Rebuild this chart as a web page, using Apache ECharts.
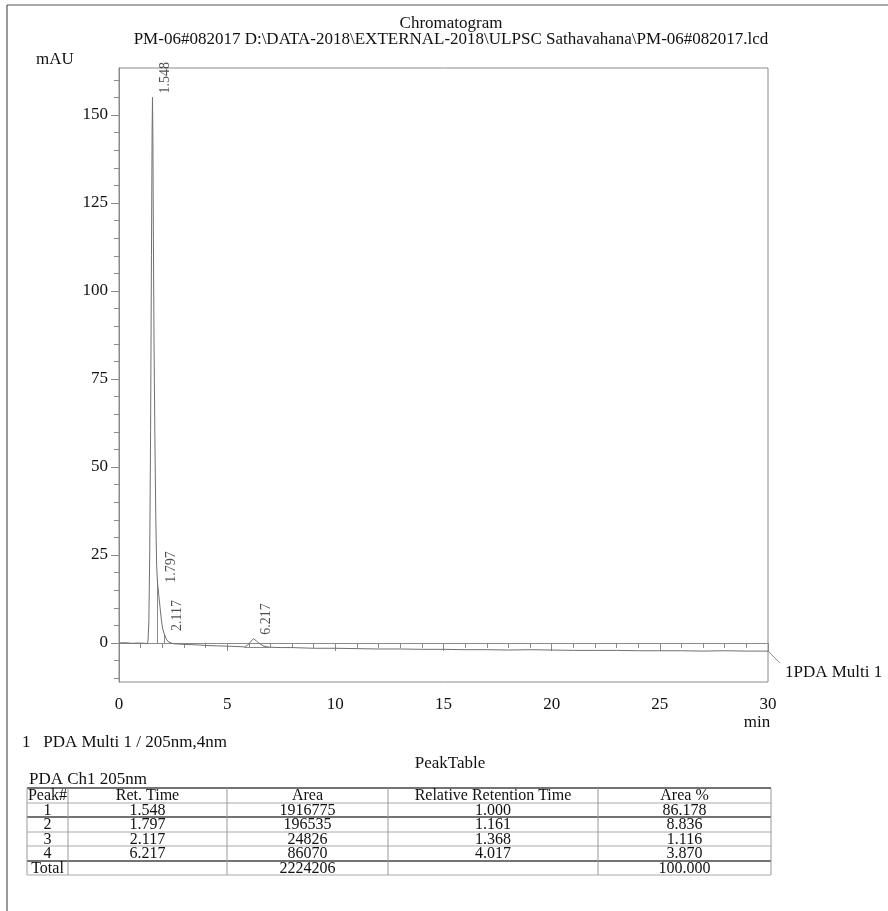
<!DOCTYPE html>
<html><head><meta charset="utf-8">
<script src="https://cdn.jsdelivr.net/npm/echarts@6/dist/echarts.min.js"></script>
<style>html,body{margin:0;padding:0;background:#fff}#c{width:888px;height:911px}</style>
</head><body><div id="c"></div>
<script>
// ---- data ----
const timeMin = [0, 0.3, 0.6, 0.9, 1.2, 1.30, 1.34, 1.38, 1.42, 1.46, 1.50, 1.53, 1.548, 1.565, 1.59, 1.62, 1.66, 1.70, 1.74, 1.78, 1.80, 1.84, 1.90, 1.96, 2.02, 2.08, 2.117, 2.18, 2.26, 2.35, 2.5, 3.0, 3.5, 4.0, 4.5, 5.0, 5.5, 5.8, 5.95, 6.1, 6.217, 6.35, 6.5, 6.7, 6.95, 7.5, 8, 9, 10, 11, 12, 13, 14, 15, 16, 17, 18, 19, 20, 21, 22, 23, 24, 25, 26, 27, 28, 29, 30];
const signalMAU = [0.0, 0.1, -0.1, 0.0, -0.1, -0.2, 0.5, 6, 25, 60, 110, 145, 155, 145, 115, 85, 58, 36, 22, 17, 16, 13.5, 10, 6.5, 4, 2.8, 2.3, 1.2, 0.4, 0.0, -0.2, -0.4, -0.5, -0.7, -0.8, -0.9, -1.0, -1.1, -0.6, 0.5, 1.2, 0.6, -0.2, -0.9, -1.2, -1.3, -1.3, -1.5, -1.5, -1.6, -1.7, -1.7, -1.8, -1.8, -1.9, -1.9, -2.0, -1.9, -2.0, -2.1, -2.1, -2.1, -2.2, -2.2, -2.2, -2.3, -2.2, -2.3, -2.3];
const peakTimes = [1.548, 1.797, 2.117, 6.217];
const peakHeights = [155, 16, 2.3, 1.2];
const integrationLines = [
  [[1.33, -0.15], [2.40, -0.2]],
  [[1.77, -0.15], [1.77, 18]],
  [[2.09, -0.18], [2.09, 2.6]],
  [[5.8, -1.1], [6.95, -1.2]]
];
const yLabelValues = [0, 25, 50, 75, 100, 125, 150];
const yMinorValues = [-10, -5, 0, 5, 10, 15, 20, 25, 30, 35, 40, 45, 50, 55, 60, 65, 70, 75, 80, 85, 90, 95, 100, 105, 110, 115, 120, 125, 130, 135, 140, 145, 150, 155, 160];
const titleLines = ['Chromatogram', 'PM-06#082017 D:\\DATA-2018\\EXTERNAL-2018\\ULPSC Sathavahana\\PM-06#082017.lcd'];
const channelName = '1PDA Multi 1';
const channelNote = '1   PDA Multi 1 / 205nm,4nm';
const tableTitle = 'PeakTable';
const tableSub = 'PDA Ch1 205nm';
const tableHeader = ['Peak#', 'Ret. Time', 'Area', 'Relative Retention Time', 'Area %'];
const colPeak = ['1', '2', '3', '4', 'Total'];
const colRetTime = ['1.548', '1.797', '2.117', '6.217', ''];
const colArea = ['1916775', '196535', '24826', '86070', '2224206'];
const colRRT = ['1.000', '1.161', '1.368', '4.017', ''];
const colAreaPct = ['86.178', '8.836', '1.116', '3.870', '100.000'];

// ---- chart ----
const FONT = '"Liberation Serif", "DejaVu Serif", serif';
const AX = '#8a8a8a';
const chart = echarts.init(document.getElementById('c'), null, {renderer: 'canvas'});
const traceData = timeMin.map((t, i) => [t, signalMAU[i]]);

const option = {
  backgroundColor: '#fff',
  animation: false,
  grid: {left: 119, right: 120, top: 68, bottom: 229, show: true, borderColor: AX, borderWidth: 1, backgroundColor: 'transparent'},
  xAxis: {
    type: 'value', min: 0, max: 30, interval: 5,
    axisLine: {show: true, lineStyle: {color: AX}},
    axisTick: {show: true, length: 8, lineStyle: {color: AX}},
    minorTick: {show: true, splitNumber: 5, length: 5, lineStyle: {color: AX}},
    splitLine: {show: false},
    axisLabel: {fontFamily: FONT, fontSize: 17, color: '#111', margin: 14}
  },
  yAxis: [{
    type: 'value', min: -11.08, max: 163.35,
    axisLine: {show: true, lineStyle: {color: AX}},
    axisTick: {show: true, length: 5, customValues: yMinorValues, lineStyle: {color: AX}},
    axisLabel: {show: true, customValues: yLabelValues, fontFamily: FONT, fontSize: 17, color: '#111', margin: 11},
    splitLine: {show: false}
  }, {
    type: 'value', min: -11.08, max: 163.35, position: 'left',
    axisLine: {show: true, lineStyle: {color: AX}},
    axisTick: {show: true, length: 8, customValues: yLabelValues, lineStyle: {color: AX}},
    axisLabel: {show: false},
    splitLine: {show: false}
  }],
  series: [{
    type: 'line', data: traceData, symbol: 'none', yAxisIndex: 0,
    lineStyle: {color: '#707070', width: 1}, z: 3
  }, {
    type: 'lines', coordinateSystem: 'cartesian2d', yAxisIndex: 0,
    data: integrationLines.map(c => ({coords: c})),
    lineStyle: {color: '#8a8a8a', width: 1, opacity: 1}, z: 2
  }, {
    type: 'scatter', yAxisIndex: 0, symbolSize: 0,
    data: peakTimes.map((t, i) => [t, peakHeights[i]]),
    label: {
      show: true, position: [13, -4], rotate: 90, align: 'left', verticalAlign: 'middle',
      fontFamily: FONT, fontSize: 14, color: '#222',
      formatter: p => p.value[0].toFixed(3)
    }, z: 4
  }],
  graphic: []
};
chart.setOption(option);

// annotations & table
const g = [];
const txt = (x, y, s, opt) => g.push({type: 'text', x: x, y: y, style: Object.assign({text: s, fontFamily: FONT, fontSize: 17, fill: '#111', textAlign: 'left', textVerticalAlign: 'middle'}, opt || {})});
const ln = (x1, y1, x2, y2, c, w) => g.push({type: 'line', shape: {x1, y1, x2, y2}, style: {stroke: c, lineWidth: w || 1}});

// page border
ln(7, 5, 888, 5, '#555', 1.2);
ln(7, 5, 7, 911, '#555', 1.2);

txt(451, 24, titleLines[0], {textAlign: 'center'});
txt(451, 40, titleLines[1], {textAlign: 'center'});
txt(36, 60, 'mAU');
txt(757, 723, 'min', {textAlign: 'center'});

const endPt = chart.convertToPixel({xAxisIndex: 0, yAxisIndex: 0}, traceData[traceData.length - 1]);
ln(endPt[0], endPt[1], endPt[0] + 12, endPt[1] + 12, '#8a8a8a', 1);
txt(endPt[0] + 17, endPt[1] + 21, channelName);

txt(22, 743, channelNote);
txt(450, 764, tableTitle, {textAlign: 'center'});
txt(29, 780, tableSub);

const colX = [27, 68, 227, 388, 598, 771];
const rowY = [788, 803, 817, 832, 846, 861, 875];
const cols = [colPeak, colRetTime, colArea, colRRT, colAreaPct];
for (let i = 0; i < rowY.length; i++) {
  const dark = (i === 0 || i === 2 || i === 5);
  ln(colX[0], rowY[i], colX[5], rowY[i], dark ? '#444' : '#aaa', dark ? 1.3 : 1);
}
for (let j = 0; j < colX.length; j++) ln(colX[j], rowY[0], colX[j], rowY[6], '#999', 1);
for (let j = 0; j < 5; j++) {
  const cx = (colX[j] + colX[j + 1]) / 2;
  txt(cx, (rowY[0] + rowY[1]) / 2 + 0.5, tableHeader[j], {textAlign: 'center', fontSize: 16});
  for (let r = 0; r < 5; r++) {
    txt(cx, (rowY[r + 1] + rowY[r + 2]) / 2 + 0.5, cols[j][r], {textAlign: 'center', fontSize: 16});
  }
}
chart.setOption({graphic: g});
</script></body></html>
